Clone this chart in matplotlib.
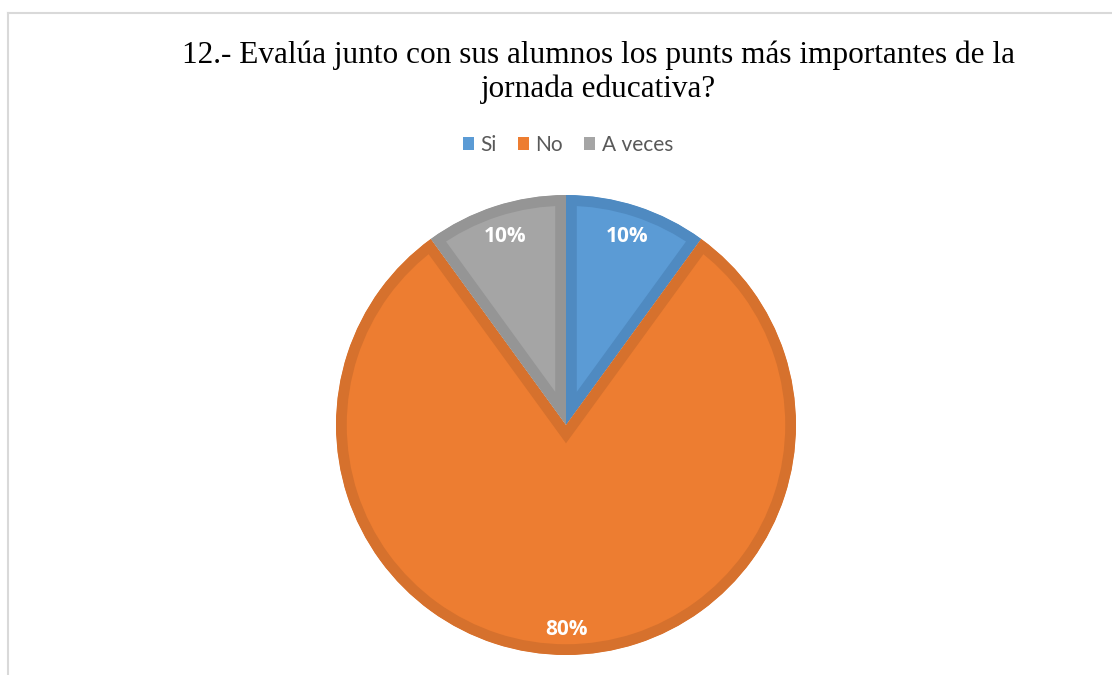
import matplotlib
matplotlib.use("Agg")
import numpy as np
import matplotlib.pyplot as plt
from matplotlib.patches import Patch
from matplotlib.lines import Line2D

categories = ["Si", "No", "A veces"]
values = [10, 80, 10]
face_colors = ["#5B9BD5", "#ED7D31", "#A5A5A5"]
edge_colors = ["#4F8AC1", "#D6712D", "#959595"]
title = "12.- Evalúa junto con sus alumnos los punts más importantes de la\njornada educativa?"

W, H = 1112, 675
fig = plt.figure(figsize=(W / 100, H / 100), dpi=100)
fig.patch.set_facecolor("white")

# frame lines (chart border)
fig.add_artist(Line2D([8 / W, 1.0], [1 - 13 / H, 1 - 13 / H], color="#D9D9D9", lw=1.5))
fig.add_artist(Line2D([8 / W, 8 / W], [1 - 13 / H, 0], color="#D9D9D9", lw=1.5))

cx, cy, R = 566, 425, 230
ax = fig.add_axes([(cx - R) / W, (H - cy - R) / H, 2 * R / W, 2 * R / H])

wedges, texts, autotexts = ax.pie(
    values, colors=face_colors, startangle=90, counterclock=False,
    radius=1.0, autopct="%1.0f%%", pctdistance=0.875,
    textprops=dict(color="white", fontsize=15, fontweight="bold", family="Open Sans"),
)
label_dist = [0.86, 0.888, 0.86]
for w, ec, at, d in zip(wedges, edge_colors, autotexts, label_dist):
    w.set_edgecolor(ec)
    w.set_linewidth(15.5)
    w.set_joinstyle("miter")
    w.set_clip_on(True)
    w.set_clip_path(w)  # keep the border inside each slice
    ang = np.deg2rad((w.theta1 + w.theta2) / 2)
    at.set_position((d * np.cos(ang), d * np.sin(ang)))
ax.set_xlim(-1, 1)
ax.set_ylim(-1, 1)
ax.set_aspect("equal")
ax.axis("off")

fig.text(598 / W, 1 - 40 / H, title, ha="center", va="top", fontsize=22.5,
         family="Liberation Serif", color="#000000", linespacing=1.22)

handles = [Patch(facecolor=c, edgecolor="none") for c in face_colors]
fig.legend(handles, categories, loc="center", bbox_to_anchor=(568 / W, 1 - 145 / H),
           ncol=3, frameon=False, handlelength=0.55, handleheight=0.55,
           handletextpad=0.3, columnspacing=1.0, labelcolor="#595959",
           prop=dict(family="Lato", size=15))

fig.savefig("out.png", dpi=100, facecolor="white")
